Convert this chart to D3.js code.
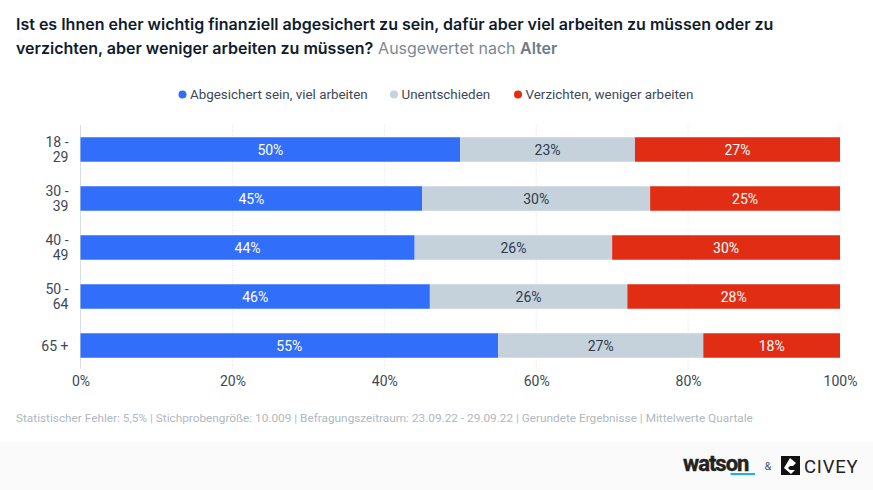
<!DOCTYPE html>
<html>
<head>
<meta charset="utf-8">
<script src="https://cdn.jsdelivr.net/npm/d3@7"></script>
<style>
html, body { margin: 0; padding: 0; background: #fff; }
text { font-family: Roboto, sans-serif; }
</style>
</head>
<body>
<div id="chart"></div>
<script>
var categories = ["18 - 29", "30 - 39", "40 - 49", "50 - 64", "65 +"];
var seriesNames = ["Abgesichert sein, viel arbeiten", "Unentschieden", "Verzichten, weniger arbeiten"];
var abgesichert = [50, 45, 44, 46, 55];
var unentschieden = [23, 30, 26, 26, 27];
var verzichten = [27, 25, 30, 28, 18];
var xTicks = [0, 20, 40, 60, 80, 100];
var colors = ["#316efa", "#c5d2dc", "#e12d14"];
var labelColors = ["#ffffff", "#2f3b4a", "#ffffff"];

var width = 873, height = 490;
var svg = d3.select("#chart").append("svg")
	.attr("width", width)
	.attr("height", height)
	.style("display", "block");

// footer band
svg.append("rect")
	.attr("x", 0).attr("y", 442)
	.attr("width", width).attr("height", 48)
	.attr("fill", "#fafafa");

// title
var title = svg.append("text").attr("fill", "#0f1c2b").attr("font-size", 16).attr("font-weight", 600)
	.style("font-family", "Inter, sans-serif");
title.append("tspan").attr("x", 16).attr("y", 30)
	.text("Ist es Ihnen eher wichtig finanziell abgesichert zu sein, dafür aber viel arbeiten zu müssen oder zu");
title.append("tspan").attr("x", 16).attr("y", 54)
	.text("verzichten, aber weniger arbeiten zu müssen?");
title.append("tspan").attr("dx", 5).attr("fill", "#7d8893").attr("font-weight", 400).text("Ausgewertet nach ");
title.append("tspan").attr("fill", "#6e7b87").attr("font-weight", 600).text("Alter");

// scales
var x = d3.scaleLinear().domain([0, 100]).range([80.5, 840]);
var y = d3.scaleBand().domain(categories).range([125, 370]).paddingInner(0.5).paddingOuter(0.25);

// gridlines
svg.append("g").selectAll("line").data(xTicks).enter().append("line")
	.attr("x1", function(d) { return x(d); })
	.attr("x2", function(d) { return x(d); })
	.attr("y1", 125).attr("y2", 369)
	.attr("stroke", function(d) { return d == 0 ? "#d9dee3" : "#dfe3e6"; })
	.attr("stroke-dasharray", function(d) { return d == 0 ? null : "1,1.5"; });

// x axis
var xAxis = svg.append("g")
	.attr("transform", "translate(0,370)")
	.call(d3.axisBottom(x).tickValues(xTicks).tickSize(0).tickPadding(6).tickFormat(function(d) { return d + "%"; }));
xAxis.select(".domain").remove();
xAxis.selectAll("text").attr("font-family", "Roboto, sans-serif").attr("font-size", 14).attr("fill", "#3c4856");

// stacked bars
var rows = categories.map(function(c, i) {
	return { cat: c, 0: abgesichert[i], 1: unentschieden[i], 2: verzichten[i] };
});
var stacked = d3.stack().keys([0, 1, 2])(rows);

var layers = svg.append("g").selectAll("g").data(stacked).enter().append("g");
layers.selectAll("rect")
	.data(function(d) { return d; })
	.enter().append("rect")
	.attr("x", function(d) { return x(d[0]); })
	.attr("y", function(d) { return y(d.data.cat); })
	.attr("width", function(d) { return x(d[1]) - x(d[0]); })
	.attr("height", y.bandwidth())
	.attr("fill", function(d, i, n) { return colors[d3.select(n[i].parentNode).datum().key]; });
layers.selectAll("text")
	.data(function(d) { return d; })
	.enter().append("text")
	.attr("x", function(d) { return (x(d[0]) + x(d[1])) / 2; })
	.attr("y", function(d) { return y(d.data.cat) + y.bandwidth() / 2 + 5; })
	.attr("text-anchor", "middle")
	.attr("font-size", 14)
	.attr("fill", function(d, i, n) { return labelColors[d3.select(n[i].parentNode).datum().key]; })
	.text(function(d) { return (d[1] - d[0]) + "%"; });

// y labels, wrapped after the dash
var yLabels = svg.append("g").selectAll("text").data(categories).enter().append("text")
	.attr("text-anchor", "end")
	.attr("font-size", 14)
	.attr("fill", "#3c4856");
yLabels.each(function(d) {
	var mid = y(d) + y.bandwidth() / 2;
	var parts = d.indexOf("-") > -1 ? [d.slice(0, d.indexOf("-") + 1), d.slice(d.indexOf("-") + 1).trim()] : [d];
	var sel = d3.select(this);
	parts.forEach(function(p, i) {
		sel.append("tspan").attr("x", 68.5)
			.attr("y", mid + 5 + (i - (parts.length - 1) / 2) * 15)
			.text(p);
	});
});

// legend
var legendX = [182.5, 394, 518];
var legend = svg.append("g").selectAll("g").data(seriesNames).enter().append("g")
	.attr("transform", function(d, i) { return "translate(" + legendX[i] + ",94.5)"; });
legend.append("circle").attr("r", 4).attr("fill", function(d, i) { return colors[i]; });
legend.append("text").attr("x", 7.5).attr("y", 4.5)
	.attr("font-size", 13.4).attr("fill", "#3c4856")
	.text(function(d) { return d; });

// source line
svg.append("text").attr("x", 16).attr("y", 422)
	.attr("font-size", 11.8).attr("fill", "#b0b8c0")
	.text("Statistischer Fehler: 5,5% | Stichprobengröße: 10.009 | Befragungszeitraum: 23.09.22 - 29.09.22 | Gerundete Ergebnisse | Mittelwerte Quartale");

// logos
svg.append("text").attr("x", 683).attr("y", 471)
	.attr("font-family", "Liberation Sans, sans-serif").attr("font-size", 22).attr("font-weight", 700)
	.attr("letter-spacing", -1).attr("fill", "#222").attr("stroke", "#222").attr("stroke-width", 0.4)
	.text("watson");
svg.append("rect").attr("x", 730.5).attr("y", 473).attr("width", 24.5).attr("height", 2).attr("fill", "#18b4e8");
svg.append("text").attr("x", 764.5).attr("y", 469.5)
	.attr("font-size", 11).attr("fill", "#4a5868").text("&");
svg.append("rect").attr("x", 781).attr("y", 456).attr("width", 19).attr("height", 19).attr("fill", "#111");
svg.append("path").attr("d", "M790 458l6 5-3 3h-3l-2 2 2 2h5l-4 4-7-6z").attr("fill", "#fff");
svg.append("text").attr("x", 804).attr("y", 472.5)
	.attr("font-size", 18.5).attr("letter-spacing", 0.8).attr("fill", "#222").text("CIVEY");
</script>
</body>
</html>
